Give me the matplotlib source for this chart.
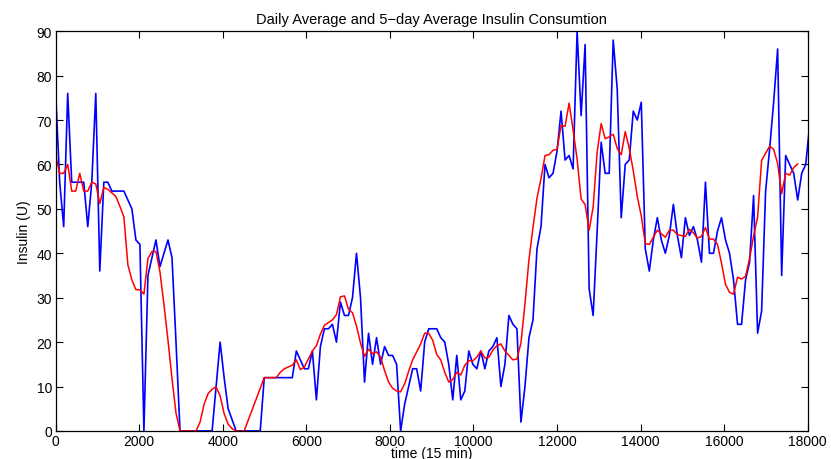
import numpy as np
import matplotlib
matplotlib.use('Agg')
import matplotlib.pyplot as plt

plt.rcParams['font.family'] = ['Liberation Sans', 'DejaVu Sans']

# one point per day, 96 samples of 15 min
step = 96

daily = [76, 56, 46, 76, 56, 56, 56, 56, 46, 56,
         76, 36, 56, 56, 54, 54, 54, 54, 52, 50,
         43, 42, 0, 35, 39, 43, 37, 40, 43, 39,
         20, 0, 0, 0, 0, 0, 0, 0, 0, 0,
         10, 20, 12, 5, 2.5, 0, 0, 0, 0, 0,
         0, 0, 12, 12, 12, 12, 12, 12, 12, 12,
         18, 16, 14, 14, 18, 7, 19, 23, 23, 24,
         20, 29, 26, 26, 30, 40, 30, 11, 22, 15,
         21, 15, 19, 17, 17, 15, 0, 6, 10, 14,
         14, 9, 20, 23, 23, 23, 21, 20, 15, 7,
         17, 7, 9, 18, 15, 14, 18, 14, 18, 19,
         21, 10, 15, 26, 24, 23, 2, 10, 21, 25,
         41, 46, 60, 57, 58, 63, 72, 61, 62, 59,
         90, 71, 87, 32, 26, 45, 65, 58, 58, 88,
         77, 48, 60, 61, 72, 70, 74, 41, 36, 43,
         48, 43, 40, 44, 51, 44, 39, 48, 44, 46,
         43, 38, 56, 40, 40, 45, 48, 43, 40, 34,
         24, 24, 34, 38, 53, 22, 27, 54, 63.5, 74,
         86, 35, 62, 60, 58, 52, 58, 60, 69]

avg5 = [62, 58, 58, 60, 54, 54, 58, 54, 54, 56,
        55.6, 51.2, 54.8, 54.4, 53.6, 52.8, 50.6, 48.2, 37.4, 34,
        31.8, 31.8, 30.8, 38.8, 40.4, 40.4, 35.8, 28.4, 20.4, 11.8,
        4, 0, 0, 0, 0, 0, 2, 6, 8.4, 9.4,
        9.9, 7.9, 3.9, 1.5, 0.5, 0, 0, 0, 2.4, 4.8,
        7.2, 9.6, 12, 12, 12, 12, 13.2, 14, 14.4, 14.8,
        16, 13.8, 14.4, 16.2, 18, 19.2, 21.8, 23.8, 24.4, 25,
        26.2, 30.2, 30.4, 27.4, 26.6, 23.6, 19.8, 16.8, 18.4, 17.4,
        17.8, 16.6, 13.6, 11, 9.6, 9, 8.8, 10.6, 13.4, 16,
        17.8, 19.6, 22, 22, 20.4, 17.2, 16, 13.2, 11, 11.6,
        13.2, 12.6, 14.8, 15.8, 15.8, 16.6, 18, 16.4, 16.6, 18.2,
        19.2, 19.6, 18, 17, 16, 16.2, 19.8, 28.6, 38.6, 45.8,
        52.4, 56.8, 62, 62.2, 63.2, 63.4, 68.8, 68.6, 73.8, 67.8,
        61.2, 52.2, 51, 45.2, 50.4, 62.8, 69.2, 65.8, 66.2, 66.8,
        63.6, 62.2, 67.4, 63.6, 58.6, 52.8, 48.4, 42.2, 42, 43.6,
        45.2, 44.4, 43.6, 45.2, 45.2, 44.2, 44, 43.8, 45.4, 44.6,
        43.4, 43.8, 45.8, 43.2, 43.2, 42, 37.8, 33, 31.2, 30.8,
        34.6, 34.2, 34.8, 38.8, 43.9, 48.1, 60.9, 62.5, 64.1, 63.4,
        60.2, 53.4, 58, 57.6, 59.3, 60.1]

x_daily = np.arange(len(daily)) * step
x_avg = np.arange(len(avg5)) * step

fig = plt.figure(figsize=(8.31, 4.6), dpi=100)
ax = fig.add_axes([0.067, 0.061, 0.905, 0.869])

ax.plot(x_daily, daily, color='blue', lw=1.2)
ax.plot(x_avg, avg5, color='red', lw=1.1)

ax.set_xlim(0, 18000)
ax.set_ylim(0, 90)
ax.set_xticks(np.arange(0, 18001, 2000))
ax.set_yticks(np.arange(0, 91, 10))
ax.tick_params(direction='in', top=True, right=True, length=5, width=0.8,
               labelsize=10, pad=2.5)
for s in ax.spines.values():
    s.set_linewidth(0.9)

ax.set_title('Daily Average and 5\u2212day Average Insulin Consumtion',
             fontsize=10.5, pad=6)
ax.set_xlabel('time (15 min)', fontsize=10, labelpad=-2)
ax.set_ylabel('Insulin (U)', fontsize=10, labelpad=4)

fig.savefig('out.png', dpi=100)
